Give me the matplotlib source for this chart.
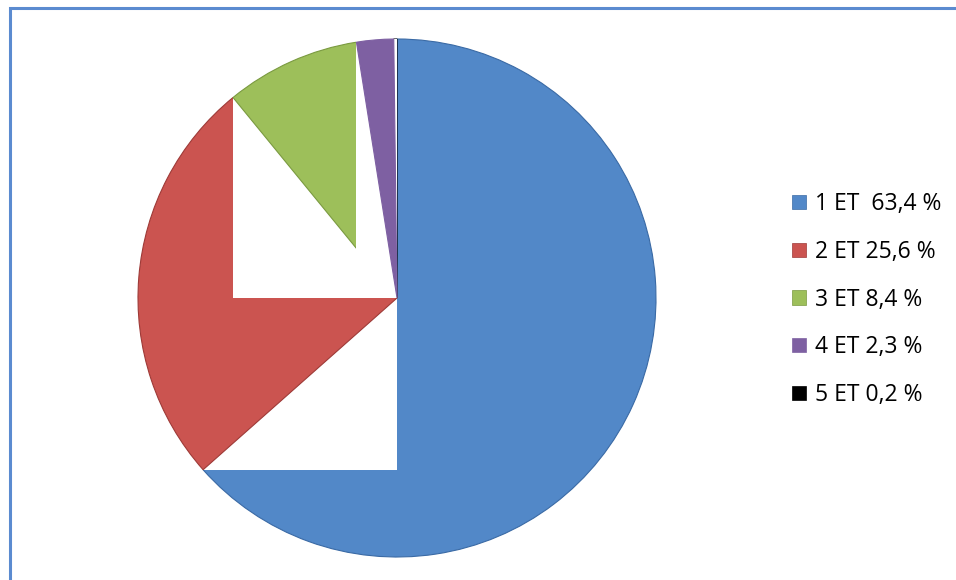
import numpy as np
import matplotlib
matplotlib.use("Agg")
import matplotlib.pyplot as plt
from matplotlib.patches import Rectangle

# data
labels = ['1 ET  63,4 %', '2 ET 25,6 %', '3 ET 8,4 %', '4 ET 2,3 %', '5 ET 0,2 %']
values = [63.4, 25.6, 8.4, 2.3, 0.2]
colors = ['#5288C8', '#CB5450', '#9DBF5A', '#7E60A2', '#000000']
edges = ['#3A6AA5', '#9E3A37', '#7A9A40', '#7E60A2', '#000000']

plt.rcParams['font.family'] = ['Open Sans', 'DejaVu Sans']

fig = plt.figure(figsize=(9.56, 5.8), dpi=100)

# outer frame (only top and left edges show)
fig.patches.append(Rectangle((10/956, -0.1), 1.2, (580-8)/580 + 0.1,
                             transform=fig.transFigure, fill=False,
                             edgecolor='#5B8BD0', linewidth=2.2))

ax = fig.add_axes([138/956, 23/580, 518/956, 518/580])
wedges, _ = ax.pie(values, colors=colors, startangle=90, counterclock=False,
                   radius=1, wedgeprops=dict(linewidth=0.8))
for w, e in zip(wedges, edges):
    w.set_edgecolor(e)

# wedge boundary points on the rim (clockwise from top)
frac = np.cumsum(values) / np.sum(values)
ang = np.deg2rad(90 - 360 * frac)
px, py = np.cos(ang), np.sin(ang)

# stacking order with the white cut-outs seen in the picture
wedges[0].set_zorder(1)
wedges[1].set_zorder(2)
wedges[2].set_zorder(3)
wedges[4].set_zorder(3)
wedges[3].set_zorder(4)
ax.add_patch(Rectangle((px[0], py[0]), -px[0], -py[0], facecolor='white',
                       edgecolor='none', zorder=1.5))
ax.add_patch(Rectangle((px[1], 0), -px[1], py[1], facecolor='white',
                       edgecolor='none', zorder=2.5))
ax.add_patch(Rectangle((px[2], 0), -px[2], 1.05, facecolor='white',
                       edgecolor='none', zorder=3.5))

ax.set_xlim(-1.0, 1.0)
ax.set_ylim(-1.0, 1.0)
ax.set_aspect('equal')
ax.axis('off')

leg = fig.legend(wedges, labels, loc='upper left',
                 bbox_to_anchor=(781/956, (580-181)/580), frameon=False,
                 fontsize=16.5, handlelength=0.58, handleheight=0.58,
                 handletextpad=0.4, labelspacing=1.03, borderpad=0)
for h in leg.legend_handles:
    h.set_linewidth(0.5)

fig.savefig('out.png', dpi=100, facecolor='white')
